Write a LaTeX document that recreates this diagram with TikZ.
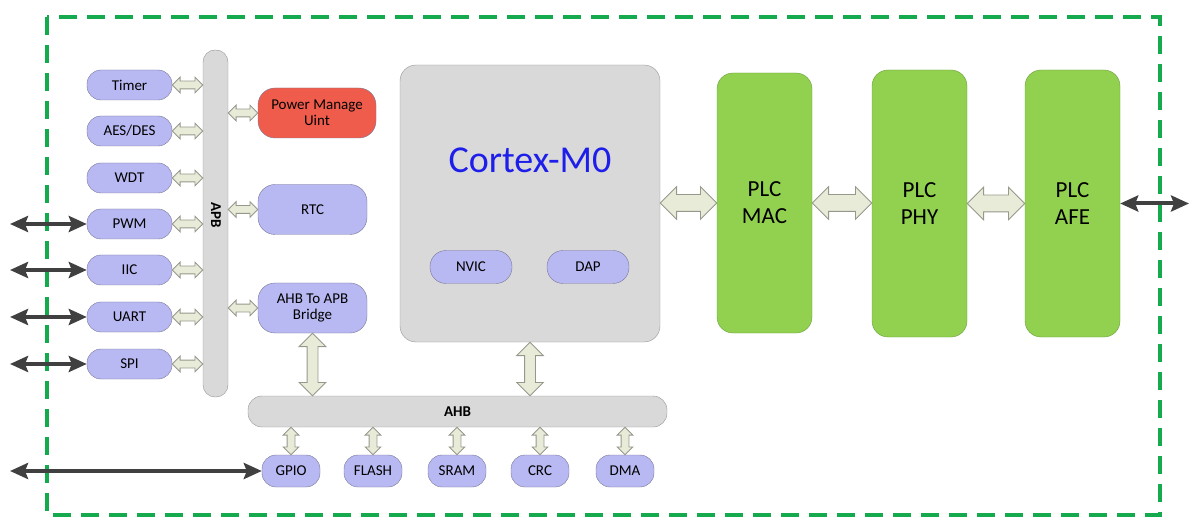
\documentclass[tikz,border=0pt]{standalone}
\usepackage{fontspec}
\setmainfont{Carlito}
\usetikzlibrary{calc,shapes.arrows,arrows.meta}

\definecolor{lav}{RGB}{184,184,242}
\definecolor{lavline}{RGB}{120,120,150}
\definecolor{busgray}{RGB}{217,217,217}
\definecolor{busline}{RGB}{150,150,150}
\definecolor{pmured}{RGB}{240,92,76}
\definecolor{plcgreen}{RGB}{146,208,80}
\definecolor{plcline}{RGB}{105,160,60}
\definecolor{hollow}{RGB}{232,235,216}
\definecolor{hollowline}{RGB}{150,152,140}
\definecolor{darkarrow}{RGB}{64,64,64}
\definecolor{chipgreen}{RGB}{22,170,78}
\definecolor{cortexblue}{RGB}{30,30,235}

\tikzset{
    unit/.style={draw=lavline, fill=lav, rounded corners=14pt, minimum width=85pt,
        minimum height=30pt, inner sep=0pt, align=center, font=\fontsize{15}{16}\selectfont},
    iounit/.style={unit, minimum width=58pt, minimum height=32pt},
    bigunit/.style={unit, rounded corners=17pt, minimum width=109pt, minimum height=50pt},
    bus/.style={draw=busline, fill=busgray, rounded corners=12pt, inner sep=0pt,
        font=\bfseries\fontsize{15}{16}\selectfont},
    plc/.style={draw=plcline, fill=plcgreen, rounded corners=16pt, minimum width=95pt,
        minimum height=267pt, align=center, font=\fontsize{23}{27}\selectfont},
    busarrow/.style={shape=double arrow, draw=hollowline, fill=hollow, line width=0.8pt,
        inner xsep=0pt, inner ysep=3.5pt, text height=0pt, text depth=0pt,
        double arrow head extend=4pt, double arrow tip angle=90},
    widearrow/.style={busarrow, inner ysep=5pt, double arrow head extend=8pt},
    linkarrow/.style={busarrow, inner ysep=8pt, double arrow head extend=8pt},
    pinarrow/.style={draw=darkarrow, line width=4pt,
        {Stealth[length=18pt,width=16pt,inset=3pt]}-{Stealth[length=18pt,width=16pt,inset=3pt]}},
    chipedge/.style={draw=chipgreen, line width=4pt, dash pattern=on 18pt off 10pt}
}

% hollow double arrow from #2 to #3
\newcommand{\busarrow}[3][busarrow]{%
    \path let \p1=(#2), \p2=(#3), \n1={veclen(\x2-\x1,\y2-\y1)},
        \n2={atan2(\y2-\y1,\x2-\x1)} in
        node[#1, minimum height=\n1, rotate=\n2] at ($(\p1)!0.5!(\p2)$) {};}

\begin{document}
\begin{tikzpicture}[x=1pt,y=-1pt]
\useasboundingbox (0,0) rectangle (1191,521);

% chip boundary
\draw[chipedge] (47,17) rectangle (1160,515);

% APB side
\node[bus, minimum width=25pt, minimum height=347pt] (apb) at (215.5,223.5) {};
\node[rotate=-90, font=\bfseries\fontsize{15}{16}\selectfont] at (216,215) {APB};

\node[unit] (tmr) at (129.5,85) {Timer};
\node[unit] (aes) at (129.5,131) {AES/DES};
\node[unit] (wdt) at (129.5,178) {WDT};
\node[unit] (pwm) at (129.5,224) {PWM};
\node[unit] (iic) at (129.5,270) {IIC};
\node[unit] (uart) at (129.5,317) {UART};
\node[unit] (spi) at (129.5,364) {SPI};

\node[bigunit, fill=pmured, minimum width=118pt] (pmu) at (317,113) {Power Manage\\Uint};
\node[bigunit] (rtc) at (312.5,209.5) {RTC};
\node[bigunit] (bridge) at (312.5,308) {AHB To APB\\Bridge};

\foreach \u in {tmr,aes,wdt,pwm,iic,uart,spi}
    \busarrow{\u.east}{apb.west |- \u.east};
\foreach \u in {pmu,rtc,bridge}
    \busarrow{apb.east |- \u.west}{\u.west};

% pins
\coordinate (pwmpin) at (10,224);
\coordinate (iicpin) at (10,270);
\coordinate (uartpin) at (10,317);
\coordinate (spipin) at (10,364);
\draw[pinarrow] (pwmpin) -- (pwm.west);
\draw[pinarrow] (iicpin) -- (iic.west);
\draw[pinarrow] (uartpin) -- (uart.west);
\draw[pinarrow] (spipin) -- (spi.west);

% core
\node[draw=busline, fill=busgray, rounded corners=16pt, minimum width=260pt,
    minimum height=277pt] (cortex) at (530,203.5) {};
\node[text=cortexblue, font=\fontsize{38}{44}\selectfont] (cm0) at (530,160) {Cortex-M0};
\node[unit, minimum width=82pt, minimum height=33pt, rounded corners=16pt] (nvic) at (471,267) {NVIC};
\node[unit, minimum width=82pt, minimum height=33pt, rounded corners=16pt] (dap) at (588,267) {DAP};

% AHB side
\node[bus, minimum width=419pt, minimum height=31pt, rounded corners=14pt] (ahb) at (457.5,411.5) {AHB};
\busarrow[widearrow]{bridge.south}{bridge.south |- ahb.north}
\busarrow[widearrow]{cortex.south}{cortex.south |- ahb.north}

\node[iounit] (gpio) at (291,471) {GPIO};
\node[iounit] (flash) at (373,471) {FLASH};
\node[iounit] (sram) at (457,471) {SRAM};
\node[iounit] (crc) at (540,471) {CRC};
\node[iounit] (dma) at (625,471) {DMA};
\foreach \u in {gpio,flash,sram,crc,dma}
    \busarrow{ahb.south -| \u.north}{\u.north};

\coordinate (gpiopin) at (10,471);
\draw[pinarrow] (gpiopin) -- (gpio.west);

% PLC chain
\node[plc, minimum height=260pt] (mac) at (764.5,203) {PLC\\MAC};
\node[plc] (phy) at (919.5,203.5) {PLC\\PHY};
\node[plc] (afe) at (1072.5,203.5) {PLC\\AFE};
\busarrow[linkarrow]{cortex.east |- mac.west}{mac.west}
\busarrow[linkarrow]{mac.east}{mac.east -| phy.west}
\busarrow[linkarrow]{phy.east}{afe.west}

\coordinate (afepin) at (1189,203.5);
\draw[pinarrow] (afe.east) -- (afepin);
\end{tikzpicture}
\end{document}
